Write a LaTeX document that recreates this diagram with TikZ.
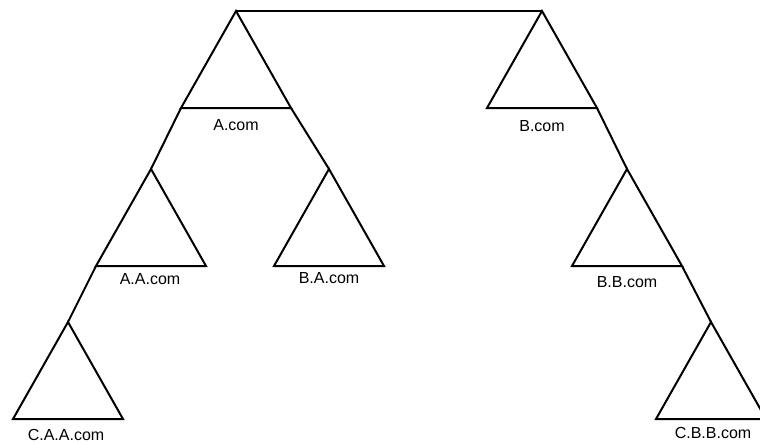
\documentclass[tikz,border=0pt]{standalone}
\usepackage{fontspec}
\setmainfont{Liberation Sans}
\tikzset{
  tri/.style={draw=black, line width=2pt, line join=miter},
  conn/.style={draw=black, line width=2pt},
  lbl/.style={font=\fontsize{16}{19}\selectfont, inner sep=0pt, anchor=center}
}
\newcommand\mytri[3]{%
  \coordinate (#1-a) at (#2,#3);
  \coordinate (#1-l) at ({#2-55},{#3+97});
  \coordinate (#1-r) at ({#2+55},{#3+97});
  \draw[tri] (#1-a) -- (#1-l) -- (#1-r) -- cycle;
}
\begin{document}
\begin{tikzpicture}[x=1pt,y=-1pt]
  \useasboundingbox (0,0) rectangle (760,444);
  \clip (0,0) rectangle (760,444);
  \mytri{A}{236}{11}
  \mytri{B}{542}{11}
  \mytri{AA}{151}{169}
  \mytri{BA}{329}{169}
  \mytri{BB}{627}{169}
  \mytri{CAA}{68}{322}
  \mytri{CBB}{711}{322}
  \draw[conn] (A-a) -- (B-a);
  \draw[conn] (A-l) -- (AA-a);
  \draw[conn] (A-r) -- (BA-a);
  \draw[conn] (B-r) -- (BB-a);
  \draw[conn] (AA-l) -- (CAA-a);
  \draw[conn] (BB-r) -- (CBB-a);
  \node[lbl] (A-t) at (236,125) {A.com};
  \node[lbl] (B-t) at (542,126) {B.com};
  \node[lbl] (AA-t) at (150,279) {A.A.com};
  \node[lbl] (BA-t) at (329,278) {B.A.com};
  \node[lbl] (BB-t) at (627,282) {B.B.com};
  \node[lbl] (CAA-t) at (66,435) {C.A.A.com};
  \node[lbl] (CBB-t) at (713,433) {C.B.B.com};
\end{tikzpicture}
\end{document}
